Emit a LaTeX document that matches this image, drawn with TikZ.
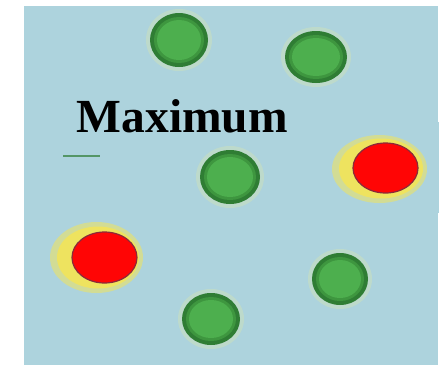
\documentclass[tikz,border=0pt]{standalone}
\usepackage{fontspec}
\setmainfont{Liberation Serif}
\usepackage{xcolor}
\usepackage{tikz}
\definecolor{poolblue}{HTML}{ADD3DD}
\definecolor{dotdark}{HTML}{2F7D34}
\definecolor{dotmid}{HTML}{3E963F}
\definecolor{dotlight}{HTML}{4DAF4E}
\definecolor{halopale}{HTML}{C9DFC0}
\definecolor{hotred}{HTML}{FF0505}
\definecolor{hotrim}{HTML}{8A2A3A}
\definecolor{glowyellow}{HTML}{F2E45A}
\tikzset{
  greendot/.style={fill=dotdark},
  greenmid/.style={fill=dotmid},
  greencore/.style={fill=dotlight},
  reddot/.style={fill=hotred,draw=hotrim,line width=1.2pt},
  glow/.style={fill=glowyellow,opacity=0.55},
  glowcore/.style={fill=glowyellow,opacity=0.9}
}

\begin{document}
\begin{tikzpicture}[x=1pt,y=-1pt]
  \useasboundingbox (0,0) rectangle (439,365);
  \fill[poolblue] (24,6) rectangle (437.5,365);
  \fill[poolblue] (437,122) rectangle (439,213);
  % green dots
  \foreach \cx/\cy/\rx/\ry in {179/40/29/27, 316/57/31/26, 230/177/30/27, 340/279/28/26, 211/319/29/26} {
    \fill[halopale,opacity=0.6] (\cx,\cy) ellipse ({\rx+4} and {\ry+4});
    \fill[greendot] (\cx,\cy) ellipse ({\rx} and {\ry});
    \fill[greenmid] (\cx,\cy) ellipse ({\rx-4} and {\ry-4});
    \fill[greencore] (\cx,\cy) ellipse ({\rx-7} and {\ry-7});
  }
  % red dots with yellow glow
  \fill[glow] (379.5,169) ellipse (47.5 and 34);
  \fill[glowcore] (381,168.5) ellipse (42 and 30);
  \fill[glow] (96.5,257.5) ellipse (46.5 and 35.5);
  \fill[glowcore] (98,257.5) ellipse (41 and 31);
  \draw[reddot] (104.5,257.5) ellipse (32.5 and 25.5);
  \draw[reddot] (385.5,168) ellipse (32.5 and 25);
  % stray mark
  \draw[dotdark,line width=1.5pt,opacity=0.7] (63,156) -- (100,156);
  \node[anchor=base west,inner sep=0pt,font=\fontsize{47.5}{52}\selectfont\bfseries] (maxlabel) at (76.5,132) {Maximum};
\end{tikzpicture}
\end{document}
